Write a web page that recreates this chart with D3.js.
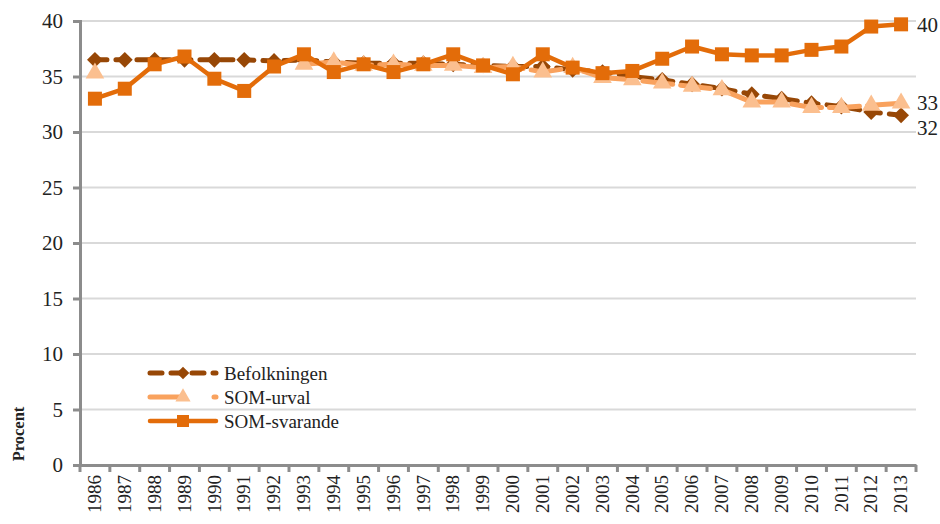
<!DOCTYPE html>
<html><head><meta charset="utf-8">
<script src="https://cdn.jsdelivr.net/npm/d3@7/dist/d3.min.js"></script>
<style>body{margin:0;background:#fff}svg{display:block}</style>
</head><body><svg id="c" width="940" height="524"></svg>
<script>
const years = ["1986","1987","1988","1989","1990","1991","1992","1993","1994","1995","1996","1997","1998","1999","2000","2001","2002","2003","2004","2005","2006","2007","2008","2009","2010","2011","2012","2013"];
const befolkningen = [36.5,36.5,36.5,36.5,36.5,36.5,36.4,36.5,36.3,36.2,36.2,36.2,36.1,36.0,35.9,35.9,35.6,35.4,35.0,34.7,34.3,33.9,33.4,33.0,32.6,32.3,31.8,31.5];
const somUrval = [35.3,null,null,null,null,null,null,36.1,36.3,36.0,36.1,36.0,36.0,35.8,35.9,35.4,35.8,34.9,34.7,34.4,34.1,33.8,32.7,32.7,32.2,32.2,32.4,32.6];
const somSvarande = [33.0,33.9,36.1,36.8,34.8,33.7,35.9,37.0,35.4,36.1,35.4,36.1,37.0,36.0,35.2,37.0,35.8,35.3,35.5,36.6,37.7,37.0,36.9,36.9,37.4,37.7,39.5,39.7];
const yTicks = [0,5,10,15,20,25,30,35,40];
const seriesNames = ["Befolkningen","SOM-urval","SOM-svarande"];
const endLabels = ["32","33","40"];

const svg = d3.select("#c");
const font = "'Liberation Serif','DejaVu Serif',serif";
const L = 80, R = 916, T = 21, B = 465;
const x = d3.scaleBand().domain(years).range([L, R]).padding(0);
const y = d3.scaleLinear().domain([0, 40]).range([B, T]);
const cx = d => x(d) + x.bandwidth()/2;

// gridlines
svg.append("g").selectAll("line").data(yTicks.filter(t=>t>0)).join("line")
  .attr("x1", L).attr("x2", R).attr("y1", d=>y(d)).attr("y2", d=>y(d))
  .attr("stroke", "#d9d9d9").attr("stroke-width", 2);

// y axis
const ya = svg.append("g").attr("transform", `translate(${L},0)`)
  .call(d3.axisLeft(y).tickValues(yTicks).tickSize(7).tickPadding(10));
ya.select(".domain").attr("stroke", "#8c8c8c").attr("stroke-width", 3);
ya.selectAll(".tick line").attr("stroke", "#8c8c8c").attr("stroke-width", 3);
ya.selectAll("text").attr("font-family", font).attr("font-size", 21).attr("fill", "#222");

// x axis
const xa = svg.append("g").attr("transform", `translate(0,${B})`)
  .call(d3.axisBottom(x).tickSize(0).tickPadding(0));
xa.select(".domain").attr("stroke", "#8c8c8c").attr("stroke-width", 3);
xa.selectAll("text").attr("font-family", font).attr("font-size", 19).attr("fill", "#222")
  .attr("transform", "rotate(-90)").attr("text-anchor", "end")
  .attr("dx", "-10").attr("dy", "0.33em").attr("y", 0).attr("x", 0);
// boundary ticks
svg.append("g").selectAll("line").data(d3.range(years.length+1)).join("line")
  .attr("x1", i => L + i*x.bandwidth()).attr("x2", i => L + i*x.bandwidth())
  .attr("y1", B).attr("y2", B+7).attr("stroke", "#8c8c8c").attr("stroke-width", 3);

// y title
svg.append("text").attr("transform", "translate(24,434) rotate(-90)")
  .attr("text-anchor", "middle").attr("font-family", font).attr("font-size", 16.5)
  .attr("font-weight", "bold").attr("fill", "#222").text("Procent");

const line = d3.line().defined(d => d.v != null).x(d => cx(d.k)).y(d => y(d.v));
const toPts = arr => years.map((k,i)=>({k, v: arr[i]}));

// Befolkningen
const gB = svg.append("g");
gB.append("path").datum(toPts(befolkningen)).attr("d", line).attr("fill","none")
  .attr("stroke","#974706").attr("stroke-width",5).attr("stroke-dasharray","12,9").attr("stroke-linecap","round");
gB.selectAll("path.m").data(toPts(befolkningen)).join("path").attr("class","m")
  .attr("d", d3.symbol().type(d3.symbolSquare).size(125))
  .attr("transform", d=>`translate(${cx(d.k)},${y(d.v)}) rotate(45)`).attr("fill","#974706");

// SOM-urval
const gU = svg.append("g");
gU.append("path").datum(toPts(somUrval)).attr("d", line).attr("fill","none")
  .attr("stroke","#f9a25e").attr("stroke-width",5).attr("stroke-dasharray","30,8").attr("stroke-linecap","round");
gU.selectAll("path.m").data(toPts(somUrval).filter(d=>d.v!=null)).join("path").attr("class","m")
  .attr("d", d3.symbol().type(d3.symbolTriangle).size(150))
  .attr("transform", d=>`translate(${cx(d.k)},${y(d.v)})`).attr("fill","#fbbf8f");

// SOM-svarande
const gS = svg.append("g");
gS.append("path").datum(toPts(somSvarande)).attr("d", line).attr("fill","none")
  .attr("stroke","#e36c09").attr("stroke-width",4.5).attr("stroke-linejoin","round");
gS.selectAll("rect").data(toPts(somSvarande)).join("rect")
  .attr("x", d=>cx(d.k)-7).attr("y", d=>y(d.v)-7).attr("width",14).attr("height",14).attr("fill","#e36c09");

// end labels
const lastI = years.length-1;
const endData = [
  {t: endLabels[2], v: somSvarande[lastI], dy: 0},
  {t: endLabels[1], v: somUrval[lastI], dy: 0},
  {t: endLabels[0], v: befolkningen[lastI], dy: 12}
];
svg.append("g").selectAll("text").data(endData).join("text")
  .attr("x", R+1).attr("y", d=>y(d.v)+d.dy).attr("dy","0.35em")
  .attr("font-family", font).attr("font-size", 21).attr("fill","#222").text(d=>d.t);

// legend
const lg = svg.append("g");
const rows = [373, 397, 421];
const lx0 = 150, lx1 = 216;
lg.append("line").attr("x1",lx0).attr("x2",lx1).attr("y1",rows[0]).attr("y2",rows[0])
  .attr("stroke","#974706").attr("stroke-width",5).attr("stroke-dasharray","12,9").attr("stroke-linecap","round");
lg.append("path").attr("d", d3.symbol().type(d3.symbolSquare).size(80)())
  .attr("transform", `translate(${(lx0+lx1)/2},${rows[0]}) rotate(45)`).attr("fill","#974706");
lg.append("line").attr("x1",lx0).attr("x2",lx1).attr("y1",rows[1]).attr("y2",rows[1])
  .attr("stroke","#f9a25e").attr("stroke-width",5).attr("stroke-dasharray","30,34").attr("stroke-linecap","round");
lg.append("path").attr("d", d3.symbol().type(d3.symbolTriangle).size(100)())
  .attr("transform", `translate(${(lx0+lx1)/2},${rows[1]})`).attr("fill","#fbbf8f");
lg.append("line").attr("x1",lx0).attr("x2",lx1).attr("y1",rows[2]).attr("y2",rows[2])
  .attr("stroke","#e36c09").attr("stroke-width",4.5).attr("stroke-linecap","round");
lg.append("rect").attr("x",(lx0+lx1)/2-6).attr("y",rows[2]-6).attr("width",12).attr("height",12).attr("fill","#e36c09");
lg.selectAll("text").data(seriesNames).join("text")
  .attr("x", lx1+8).attr("y",(d,i)=>rows[i]).attr("dy","0.35em")
  .attr("font-family", font).attr("font-size", 19).attr("fill","#222").text(d=>d);
</script></body></html>
